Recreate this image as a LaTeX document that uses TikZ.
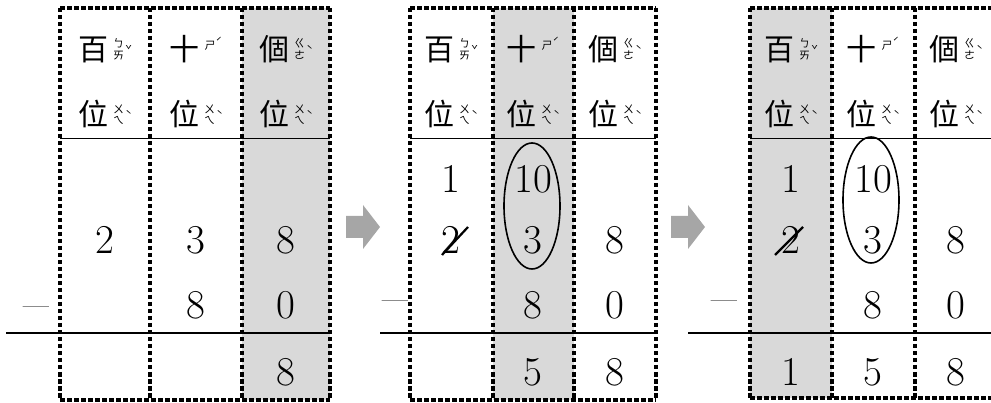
\documentclass[tikz,border=0pt]{standalone}
\usepackage{fontspec}
\newfontfamily\cjk{Noto Sans CJK TC}
\definecolor{colgray}{HTML}{D9D9D9}
\definecolor{arrowgray}{HTML}{A6A6A6}
\newcommand{\zyfont}{\cjk\fontsize{11}{12.5}\selectfont}
\newcommand{\hzi}[1]{{\cjk\fontsize{30}{30}\selectfont #1}}
\newcommand{\zytwo}[4]{\hzi{#1}\kern5pt\raisebox{1.5pt}{\zyfont\shortstack{#2\\#3}}\kern1.2pt\raisebox{6pt}{\zyfont #4}}
\newcommand{\zyone}[3]{\hzi{#1}\kern5pt\raisebox{11pt}{\zyfont #2}\raisebox{14pt}{\zyfont #3}}
\tikzset{
  hd/.style={anchor=base, inner sep=0pt},
  dg/.style={anchor=base, inner sep=0pt, font=\fontsize{41}{41}\selectfont},
  mn/.style={inner sep=0pt, font=\fontsize{28}{28}\selectfont},
  border/.style={line width=3.5pt, dash pattern=on 4.5pt off 2.5pt},
  thinline/.style={line width=1pt},
  thickline/.style={line width=2.8pt},
  ring/.style={line width=1.6pt},
  strike/.style={line width=2.2pt},
  blockarrow/.style={fill=arrowgray, draw=none},
  colfill/.style={fill=colgray, draw=none}
}
\begin{document}
\begin{tikzpicture}[x=1pt,y=-1pt]
\clip (0,0) rectangle (991,403);
% gray columns
\fill[colfill] (242,8) rectangle (330,400);
\fill[colfill] (493,8) rectangle (574,400);
\fill[colfill] (750,8) rectangle (832,398);
% header lines
\draw[thinline] (60,139) -- (330,139);
\draw[thinline] (410,139) -- (656,139);
\draw[thinline] (750,139) -- (998,139);
% thick lines
\draw[thickline] (6,333) -- (330,333);
\draw[thickline] (380,333) -- (656,333);
\draw[thickline] (688,333) -- (998,333);
% borders
\foreach \x in {60,150,242,330} \draw[border] (\x,8) -- (\x,400);
\draw[border] (60,8) -- (330,8);
\draw[border] (60,400) -- (330,400);
\foreach \x in {410,493,574,656} \draw[border] (\x,8) -- (\x,400);
\draw[border] (410,8) -- (656,8);
\draw[border] (410,400) -- (656,400);
\foreach \x in {750,832,915,998} \draw[border] (\x,8) -- (\x,398);
\draw[border] (750,8) -- (998,8);
\draw[border] (750,398) -- (998,398);
% panel 1
\node[hd] (a1) at (105,61) {\zytwo{百}{ㄅ}{ㄞ}{ˇ}};
\node[hd] (a2) at (196,61) {\zyone{十}{ㄕ}{ˊ}};
\node[hd] (a3) at (286,61) {\zytwo{個}{ㄍ}{ㄜ}{ˋ}};
\node[hd] (a4) at (105,126) {\zytwo{位}{ㄨ}{ㄟ}{ˋ}};
\node[hd] (a5) at (196,126) {\zytwo{位}{ㄨ}{ㄟ}{ˋ}};
\node[hd] (a6) at (286,126) {\zytwo{位}{ㄨ}{ㄟ}{ˋ}};
\node[dg] (a7) at (105,254) {2};
\node[dg] (a8) at (196,254) {3};
\node[dg] (a9) at (286,254) {8};
\node[dg] (a10) at (196,319) {8};
\node[dg] (a11) at (286,319) {0};
\node[dg] (a12) at (286,385) {8};
\node[mn] (a13) at (36,311) {—};
% panel 2
\node[hd] (b1) at (451,61) {\zytwo{百}{ㄅ}{ㄞ}{ˇ}};
\node[hd] (b2) at (533,61) {\zyone{十}{ㄕ}{ˊ}};
\node[hd] (b3) at (615,61) {\zytwo{個}{ㄍ}{ㄜ}{ˋ}};
\node[hd] (b4) at (451,126) {\zytwo{位}{ㄨ}{ㄟ}{ˋ}};
\node[hd] (b5) at (533,126) {\zytwo{位}{ㄨ}{ㄟ}{ˋ}};
\node[hd] (b6) at (615,126) {\zytwo{位}{ㄨ}{ㄟ}{ˋ}};
\node[dg] (b7) at (451,193) {1};
\node[dg] (b8) at (533,193) {10};
\node[dg] (b9) at (451,254) {2};
\node[dg] (b10) at (533,254) {3};
\node[dg] (b11) at (615,254) {8};
\node[dg] (b12) at (533,319) {8};
\node[dg] (b13) at (615,319) {0};
\node[dg] (b14) at (533,385) {5};
\node[dg] (b15) at (615,385) {8};
\node[mn] (b16) at (395,305) {—};
\draw[ring] (532,206) ellipse [x radius=28pt, y radius=63pt];
\draw[strike] (442,255) -- (468,227);
% panel 3
\node[hd] (c1) at (791,61) {\zytwo{百}{ㄅ}{ㄞ}{ˇ}};
\node[hd] (c2) at (873,61) {\zyone{十}{ㄕ}{ˊ}};
\node[hd] (c3) at (956,61) {\zytwo{個}{ㄍ}{ㄜ}{ˋ}};
\node[hd] (c4) at (791,126) {\zytwo{位}{ㄨ}{ㄟ}{ˋ}};
\node[hd] (c5) at (873,126) {\zytwo{位}{ㄨ}{ㄟ}{ˋ}};
\node[hd] (c6) at (956,126) {\zytwo{位}{ㄨ}{ㄟ}{ˋ}};
\node[dg] (c7) at (791,193) {1};
\node[dg] (c8) at (873,193) {10};
\node[dg] (c9) at (791,254) {2};
\node[dg] (c10) at (873,254) {3};
\node[dg] (c11) at (956,254) {8};
\node[dg] (c12) at (873,319) {8};
\node[dg] (c13) at (956,319) {0};
\node[dg] (c14) at (791,385) {1};
\node[dg] (c15) at (873,385) {5};
\node[dg] (c16) at (956,385) {8};
\node[mn] (c17) at (724,305) {—};
\draw[ring] (871,200) ellipse [x radius=28pt, y radius=63pt];
\draw[strike] (775,255) -- (803,227);
% arrows
\fill[blockarrow] (346,216) -- (363,216) -- (363,205) -- (380,227) -- (363,249) -- (363,238) -- (346,238) -- cycle;
\fill[blockarrow] (671,216) -- (688,216) -- (688,205) -- (705,227) -- (688,249) -- (688,238) -- (671,238) -- cycle;
\end{tikzpicture}
\end{document}
